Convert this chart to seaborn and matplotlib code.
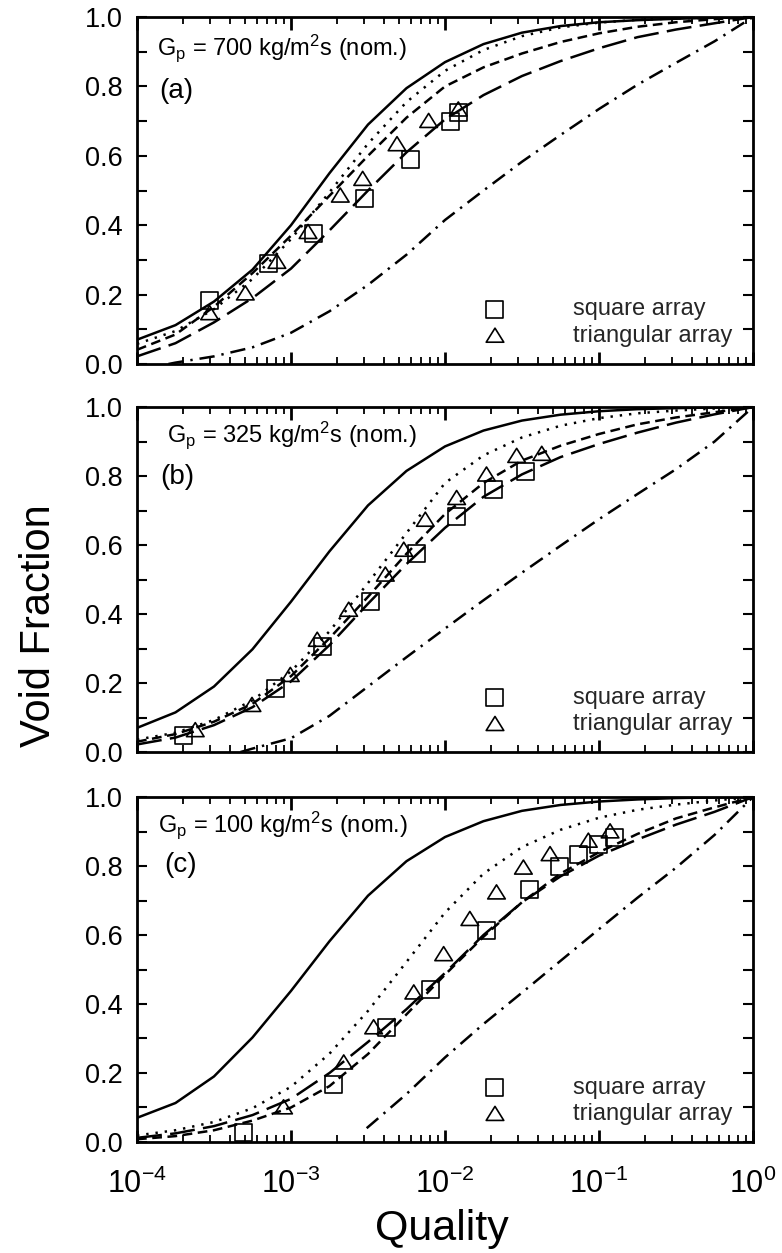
import matplotlib
matplotlib.use("Agg")
import matplotlib.pyplot as plt
import seaborn as sns
from matplotlib.ticker import MultipleLocator, LogLocator, NullFormatter, FormatStrFormatter
from matplotlib.path import Path

# ---------------- data ----------------
X = [1e-4, 1.778e-4, 3.162e-4, 5.623e-4, 1e-3, 1.778e-3, 3.162e-3, 5.623e-3,
     1e-2, 1.778e-2, 3.162e-2, 5.623e-2, 0.1, 0.1778, 0.3162, 0.5623, 1.0]

# panel (a)  G = 700
solid_a    = [0.07, 0.112, 0.18, 0.272, 0.40, 0.55, 0.69, 0.795, 0.87, 0.922, 0.955, 0.974, 0.985, 0.991, 0.995, 0.998, 1.0]
dotted_a   = [0.058, 0.095, 0.158, 0.245, 0.36, 0.495, 0.635, 0.755, 0.845, 0.905, 0.945, 0.97, 0.984, 0.992, 0.996, 0.998, 1.0]
dashed_a   = [0.041, 0.085, 0.165, 0.262, 0.37, 0.485, 0.60, 0.71, 0.80, 0.855, 0.895, 0.928, 0.953, 0.972, 0.985, 0.994, 1.0]
longdash_a = [0.022, 0.06, 0.12, 0.19, 0.275, 0.385, 0.50, 0.61, 0.705, 0.775, 0.83, 0.873, 0.91, 0.942, 0.964, 0.982, 1.0]
dashdot_a_x = [1.6e-4, 1.778e-4, 3.162e-4, 5.623e-4, 1e-3, 1.778e-3, 3.162e-3, 5.623e-3,
               1e-2, 1.778e-2, 3.162e-2, 5.623e-2, 0.1, 0.1778, 0.3162, 0.5623, 1.0]
dashdot_a  = [0.0, 0.004, 0.022, 0.048, 0.09, 0.152, 0.228, 0.315, 0.415, 0.50, 0.583, 0.66, 0.735, 0.805, 0.868, 0.93, 1.0]
sq_a_x  = [2.96e-4, 7.1e-4, 1.39e-3, 3.0e-3, 5.96e-3, 1.08e-2, 1.22e-2]
sq_a_y  = [0.184, 0.289, 0.375, 0.476, 0.59, 0.70, 0.724]
tri_a_x = [2.96e-4, 5.05e-4, 8.1e-4, 1.29e-3, 2.09e-3, 2.92e-3, 4.88e-3, 7.83e-3, 1.22e-2]
tri_a_y = [0.146, 0.203, 0.294, 0.38, 0.485, 0.533, 0.633, 0.70, 0.733]

# panel (b)  G = 325
solid_b    = [0.07, 0.115, 0.19, 0.298, 0.436, 0.582, 0.715, 0.815, 0.886, 0.932, 0.961, 0.978, 0.988, 0.994, 0.997, 0.999, 1.0]
dotted_b   = [0.036, 0.056, 0.093, 0.15, 0.234, 0.35, 0.49, 0.635, 0.78, 0.86, 0.912, 0.946, 0.968, 0.982, 0.99, 0.996, 1.0]
dashed_b   = [0.03, 0.052, 0.088, 0.14, 0.22, 0.33, 0.45, 0.575, 0.69, 0.78, 0.845, 0.888, 0.922, 0.95, 0.97, 0.985, 1.0]
longdash_b = [0.022, 0.042, 0.078, 0.13, 0.205, 0.31, 0.43, 0.545, 0.65, 0.74, 0.805, 0.855, 0.893, 0.926, 0.955, 0.979, 1.0]
dashdot_b_x = [4.7e-4, 5.623e-4, 1e-3, 1.778e-3, 3.162e-3, 5.623e-3, 1e-2, 1.778e-2,
               3.162e-2, 5.623e-2, 0.1, 0.1778, 0.3162, 0.5623, 1.0]
dashdot_b  = [0.0, 0.01, 0.04, 0.105, 0.19, 0.275, 0.358, 0.44, 0.52, 0.598, 0.675, 0.748, 0.82, 0.90, 1.0]
sq_b_x  = [2.01e-4, 7.9e-4, 1.59e-3, 3.27e-3, 6.57e-3, 1.19e-2, 2.06e-2, 3.31e-2]
sq_b_y  = [0.048, 0.184, 0.305, 0.436, 0.577, 0.683, 0.76, 0.814]
tri_b_x = [2.39e-4, 5.58e-4, 9.9e-4, 1.48e-3, 2.37e-3, 4.1e-3, 5.4e-3, 7.45e-3, 1.19e-2, 1.86e-2, 2.92e-2, 4.25e-2]
tri_b_y = [0.063, 0.136, 0.223, 0.325, 0.412, 0.514, 0.586, 0.673, 0.736, 0.804, 0.858, 0.864]

# panel (c)  G = 100
solid_c    = [0.07, 0.113, 0.19, 0.303, 0.438, 0.582, 0.714, 0.814, 0.884, 0.93, 0.96, 0.977, 0.987, 0.993, 0.997, 0.999, 1.0]
dotted_c   = [0.019, 0.034, 0.058, 0.098, 0.16, 0.256, 0.38, 0.522, 0.665, 0.778, 0.855, 0.905, 0.94, 0.963, 0.978, 0.99, 1.0]
dashed_c   = [0.008, 0.017, 0.034, 0.062, 0.10, 0.162, 0.255, 0.37, 0.485, 0.595, 0.695, 0.778, 0.84, 0.893, 0.938, 0.97, 1.0]
longdash_c = [0.012, 0.025, 0.046, 0.078, 0.125, 0.20, 0.29, 0.385, 0.49, 0.60, 0.695, 0.77, 0.83, 0.877, 0.92, 0.957, 1.0]
dashdot_c_x = [3.1e-3, 5.623e-3, 1e-2, 1.778e-2, 3.162e-2, 5.623e-2, 0.1, 0.1778, 0.3162, 0.5623, 1.0]
dashdot_c  = [0.04, 0.139, 0.245, 0.342, 0.433, 0.525, 0.617, 0.708, 0.795, 0.89, 1.0]
sq_c_x  = [4.93e-4, 1.89e-3, 4.2e-3, 8.04e-3, 1.87e-2, 3.56e-2, 5.58e-2, 7.34e-2, 9.9e-2, 1.27e-1]
sq_c_y  = [0.028, 0.168, 0.332, 0.443, 0.612, 0.733, 0.80, 0.834, 0.863, 0.882]
tri_c_x = [8.95e-4, 2.2e-3, 3.44e-3, 6.27e-3, 9.8e-3, 1.45e-2, 2.16e-2, 3.23e-2, 4.81e-2, 8.53e-2, 1.18e-1]
tri_c_y = [0.10, 0.23, 0.332, 0.433, 0.544, 0.646, 0.723, 0.795, 0.834, 0.873, 0.90]

panel_titles = [r"G$_\mathregular{p}$ = 700 kg/m$^\mathregular{2}$s (nom.)",
                r"G$_\mathregular{p}$ = 325 kg/m$^\mathregular{2}$s (nom.)",
                r"G$_\mathregular{p}$ = 100 kg/m$^\mathregular{2}$s (nom.)"]
panel_tags = ["(a)", "(b)", "(c)"]
legend_labels = ["square array", "triangular array"]
y_tick_values = [0.0, 0.2, 0.4, 0.6, 0.8, 1.0]

# ---------------- style ----------------
sns.set_theme(style="ticks")
plt.rcParams.update({
    "lines.scale_dashes": False,
    "axes.linewidth": 2.0,
    "mathtext.fontset": "custom",
    "mathtext.rm": "Liberation Sans",
    "mathtext.it": "Liberation Sans:italic",
    "mathtext.bf": "Liberation Sans:bold",
    "axes.facecolor": "white",
    "figure.facecolor": "white",
})
plt.rcParams["font.family"] = ["Liberation Sans", "DejaVu Sans"]

LS = {
    "solid": "-",
    "dotted": (0, (1.7, 5.0)),
    "dashed": (0, (7.0, 4.0)),
    "longdash": (0, (18.0, 6.0)),
    "dashdot": (0, (11.0, 5.0, 1.7, 5.0)),
}
LW = 1.8

tri_marker = Path([(-1.0, -0.72), (1.0, -0.72), (0.0, 0.88), (-1.0, -0.72)],
                  [Path.MOVETO, Path.LINETO, Path.LINETO, Path.CLOSEPOLY])

panels = [
    dict(solid=solid_a, dotted=dotted_a, dashed=dashed_a, longdash=longdash_a,
         ddx=dashdot_a_x, dd=dashdot_a, sqx=sq_a_x, sqy=sq_a_y, trx=tri_a_x, tr_y=tri_a_y,
         pos=(0.1752, 0.7095, 0.7877, 0.2769), tx=0.032, ty=0.890, gx=0.036, gy=0.787),
    dict(solid=solid_b, dotted=dotted_b, dashed=dashed_b, longdash=longdash_b,
         ddx=dashdot_b_x, dd=dashdot_b, sqx=sq_b_x, sqy=sq_b_y, trx=tri_b_x, tr_y=tri_b_y,
         pos=(0.1752, 0.3998, 0.7877, 0.2753), tx=0.049, ty=0.899, gx=0.037, gy=0.798),
    dict(solid=solid_c, dotted=dotted_c, dashed=dashed_c, longdash=longdash_c,
         ddx=dashdot_c_x, dd=dashdot_c, sqx=sq_c_x, sqy=sq_c_y, trx=tri_c_x, tr_y=tri_c_y,
         pos=(0.1752, 0.0886, 0.7877, 0.2753), tx=0.034, ty=0.899, gx=0.044, gy=0.803),
]

fig = plt.figure(figsize=(7.82, 12.53), dpi=100)

for i, p in enumerate(panels):
    ax = fig.add_axes(p["pos"])
    ax.set_xscale("log")
    for key in ["solid", "dotted", "dashed", "longdash"]:
        sns.lineplot(x=X, y=p[key], ax=ax, color="black", linewidth=LW,
                     linestyle=LS[key], sort=False, errorbar=None, zorder=2)
    sns.lineplot(x=p["ddx"], y=p["dd"], ax=ax, color="black", linewidth=LW,
                 linestyle=LS["dashdot"], sort=False, errorbar=None, zorder=2)

    sns.scatterplot(x=p["sqx"], y=p["sqy"], ax=ax, marker="s", s=150,
                    facecolor="none", edgecolor="black", linewidth=1.2, zorder=3)
    sq_handle = ax.collections[-1]
    sns.scatterplot(x=p["trx"], y=p["tr_y"], ax=ax, marker=tri_marker, s=160,
                    facecolor="none", edgecolor="black", linewidth=1.2, zorder=3)
    tri_handle = ax.collections[-1]

    ax.set_xlim(1e-4, 1.0)
    ax.set_ylim(0.0, 1.0)
    ax.set_xlabel("")
    ax.set_ylabel("")

    ax.set_yticks(y_tick_values)
    ax.yaxis.set_minor_locator(MultipleLocator(0.1))
    ax.yaxis.set_major_formatter(FormatStrFormatter("%.1f"))
    ax.xaxis.set_major_locator(LogLocator(base=10, numticks=10))
    ax.xaxis.set_minor_locator(LogLocator(base=10, subs=[2, 3, 4, 5, 6, 7, 8, 9], numticks=40))
    ax.xaxis.set_minor_formatter(NullFormatter())

    ax.tick_params(axis="both", which="both", direction="in", top=True, right=True, colors="black")
    ax.tick_params(axis="y", which="both", length=7.5, width=1.5, labelsize=19.5, pad=10.5)
    ax.tick_params(axis="x", which="major", length=9, width=2.0, labelsize=22, pad=19)
    ax.tick_params(axis="x", which="minor", length=5, width=1.3)
    if i < 2:
        ax.tick_params(axis="x", which="both", labelbottom=False)

    for sp in ax.spines.values():
        sp.set_linewidth(2.0)
        sp.set_color("black")

    ax.text(p["tx"], p["ty"], panel_titles[i], transform=ax.transAxes,
            fontsize=17, ha="left", va="baseline", color="black")
    ax.text(p["gx"], p["gy"], panel_tags[i], transform=ax.transAxes,
            fontsize=20, ha="left", va="center", color="black")

    ax.legend(handles=[sq_handle, tri_handle], labels=legend_labels,
              loc="center left", bbox_to_anchor=(0.562, 0.119), frameon=False,
              fontsize=17, handlelength=1.0, handletextpad=2.8, borderpad=0,
              borderaxespad=0, labelspacing=0.2, scatterpoints=1)

fig.text(0.050, 0.501, "Void Fraction", rotation=90, ha="center", va="center",
         fontsize=30, color="black")
fig.text(0.565, 0.0104, "Quality", ha="center", va="baseline", fontsize=31, color="black")

fig.savefig("out.png", dpi=100)
